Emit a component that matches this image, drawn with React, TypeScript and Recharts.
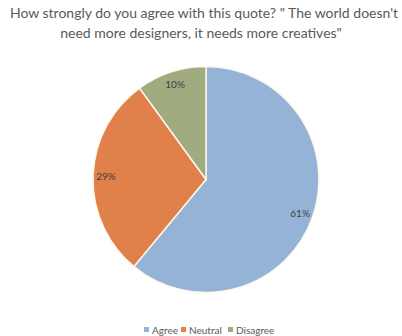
import React from 'react';
import { PieChart, Pie, Cell } from 'recharts';

const categories = ['Agree', 'Neutral', 'Disagree'];
const values = [61, 29, 10];
const colors = ['#94B3D6', '#E0804A', '#A0AB80'];
const titleLines = [
  'How strongly do you agree with this quote? " The world doesn\'t',
  'need more designers, it needs more creatives"',
];
const legendX = [144, 181, 228];

const data = categories.map((name, i) => ({ name, value: values[i] }));

const RAD = Math.PI / 180;

const renderLabel = (props: any) => {
  const { cx, cy, midAngle, outerRadius, value } = props;
  const r = outerRadius * 0.885;
  const x = cx + r * Math.cos(-midAngle * RAD);
  const y = cy + r * Math.sin(-midAngle * RAD);
  return (
    <text
      x={x}
      y={y}
      fill="#404040"
      fontSize={10}
      fontFamily="Lato, sans-serif"
      textAnchor="middle"
      dominantBaseline="central"
    >
      {value}%
    </text>
  );
};

export default function App() {
  return (
    <div
      style={{
        position: 'fixed',
        left: 0,
        top: 0,
        width: 402,
        height: 336,
        background: '#fff',
        overflow: 'hidden',
      }}
    >
      {titleLines.map((t, i) => (
        <div
          key={i}
          style={{
            position: 'absolute',
            left: i === 0 ? -3 : -6,
            top: 3 + i * 20,
            width: 414,
            textAlign: 'center',
            fontFamily: 'Lato, sans-serif',
            fontSize: 14,
            lineHeight: '20px',
            color: '#595959',
            whiteSpace: 'nowrap',
          }}
        >
          {t}
        </div>
      ))}
      <div style={{ position: 'absolute', left: 0, top: 0 }}>
        <PieChart width={402} height={336} margin={{ top: 0, right: 0, bottom: 0, left: 0 }}>
          <Pie
            data={data}
            dataKey="value"
            nameKey="name"
            cx={206}
            cy={179.5}
            outerRadius={113}
            startAngle={90}
            endAngle={-270}
            stroke="#FFF8EC"
            strokeWidth={1.5}
            label={renderLabel}
            labelLine={false}
            isAnimationActive={false}
          >
            {data.map((d, i) => (
              <Cell key={d.name} fill={colors[i]} />
            ))}
          </Pie>
        </PieChart>
      </div>
      {categories.map((c, i) => (
        <div
          key={c}
          style={{
            position: 'absolute',
            left: legendX[i],
            top: 323,
            height: 13,
            display: 'flex',
            alignItems: 'center',
            fontFamily: 'Lato, sans-serif',
            fontSize: 10,
            color: '#595959',
            whiteSpace: 'nowrap',
          }}
        >
          <span
            style={{
              display: 'inline-block',
              width: 5,
              height: 5,
              background: colors[i],
              marginRight: 3,
            }}
          />
          {c}
        </div>
      ))}
    </div>
  );
}
